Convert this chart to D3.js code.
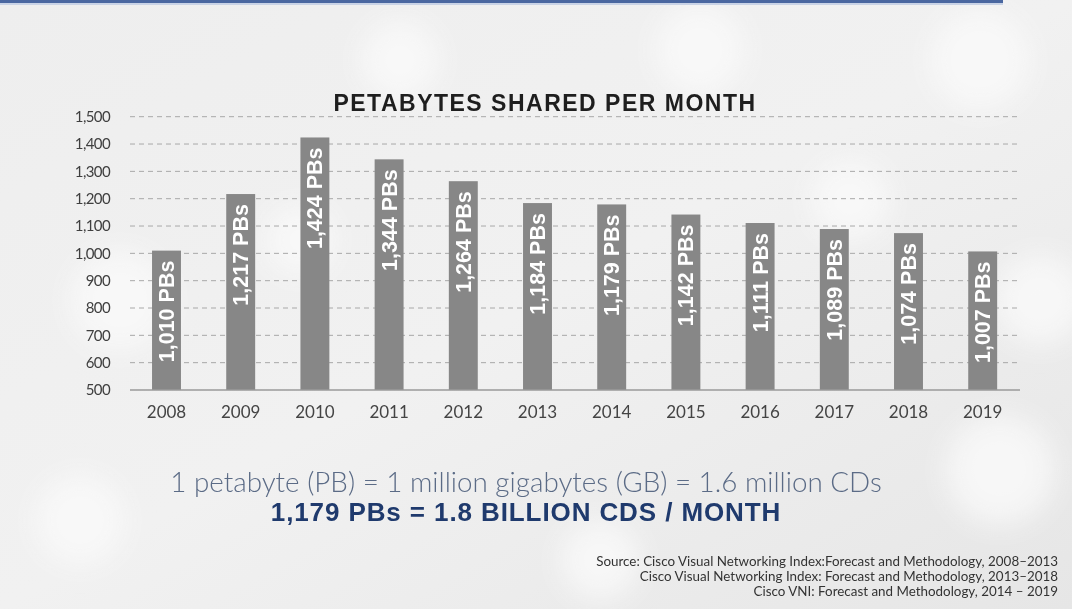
<!DOCTYPE html>
<html>
<head>
<meta charset="utf-8">
<script src="https://cdn.jsdelivr.net/npm/d3@7"></script>
<style>
  html, body { margin: 0; padding: 0; background: #ececec; }
  svg { display: block; }
</style>
</head>
<body>
<svg id="chart" width="1072" height="609"></svg>
<script>
const years = ["2008","2009","2010","2011","2012","2013","2014","2015","2016","2017","2018","2019"];
const petabytes = [1010, 1217, 1424, 1344, 1264, 1184, 1179, 1142, 1111, 1089, 1074, 1007];
const yTicks = [500, 600, 700, 800, 900, 1000, 1100, 1200, 1300, 1400, 1500];
const title = "PETABYTES SHARED PER MONTH";
const noteLine1 = "1 petabyte (PB) = 1 million gigabytes (GB) = 1.6 million CDs";
const noteLine2 = "1,179 PBs = 1.8 BILLION CDS / MONTH";
const sources = [
  "Source: Cisco Visual Networking Index:Forecast and Methodology, 2008–2013",
  "Cisco Visual Networking Index: Forecast and Methodology, 2013–2018",
  "Cisco VNI: Forecast and Methodology, 2014 – 2019"
];

const svg = d3.select("#chart");
const W = 1072, H = 609;

// background
const defs = svg.append("defs");
const bg = defs.append("linearGradient").attr("id", "bg").attr("x1", 0).attr("y1", 0).attr("x2", 1).attr("y2", 1);
bg.append("stop").attr("offset", "0%").attr("stop-color", "#eeeeee");
bg.append("stop").attr("offset", "50%").attr("stop-color", "#f1f1f1");
bg.append("stop").attr("offset", "100%").attr("stop-color", "#e6e6e6");
const blur = defs.append("filter").attr("id", "blur").attr("x", "-50%").attr("y", "-50%").attr("width", "200%").attr("height", "200%");
blur.append("feGaussianBlur").attr("stdDeviation", 14);
svg.append("rect").attr("width", W).attr("height", H).attr("fill", "url(#bg)");
const spots = [[120,300,50],[400,60,40],[700,50,45],[980,60,50],[1040,300,45],[1000,470,55],[80,520,45],[600,560,40],[300,240,35],[850,200,40]];
svg.append("g").attr("filter", "url(#blur)").selectAll("circle").data(spots).join("circle")
  .attr("cx", d => d[0]).attr("cy", d => d[1]).attr("r", d => d[2])
  .attr("fill", "#fafafa").attr("opacity", 0.8);

// top blue rule
svg.append("rect").attr("x", 0).attr("y", 0).attr("width", 1003).attr("height", 3).attr("fill", "#4a67a0");
svg.append("rect").attr("x", 0).attr("y", 3).attr("width", 1003).attr("height", 2).attr("fill", "#c9d3e6");

// scales
const x = d3.scaleBand().domain(years).range([129.4, 1019.8]).paddingInner(0.61).paddingOuter(0.305);
const y = d3.scaleLinear().domain([500, 1500]).range([390, 116.7]);

// gridlines
svg.append("g").selectAll("line").data(yTicks.filter(t => t > 500)).join("line")
  .attr("x1", 130).attr("x2", 1020)
  .attr("y1", d => y(d)).attr("y2", d => y(d))
  .attr("stroke", "#a8a8a8").attr("stroke-width", 1).attr("stroke-dasharray", "5,4");

// y axis labels
const yAxis = d3.axisLeft(y).tickValues(yTicks).tickSize(0).tickPadding(0).tickFormat(d3.format(","));
const gy = svg.append("g").attr("transform", "translate(110,0)").call(yAxis);
gy.select(".domain").remove();
gy.selectAll("text").attr("font-family", "Lato, 'Open Sans', sans-serif").attr("font-size", 15)
  .attr("fill", "#3f3f3f").attr("letter-spacing", "-0.6");

// bars
svg.append("g").selectAll("rect").data(petabytes).join("rect")
  .attr("x", (d, i) => x(years[i])).attr("width", x.bandwidth())
  .attr("y", d => y(d)).attr("height", d => y(500) - y(d))
  .attr("fill", "#878787");

// baseline
svg.append("line").attr("x1", 130).attr("x2", 1020).attr("y1", y(500)).attr("y2", y(500))
  .attr("stroke", "#9a9a9a").attr("stroke-width", 1.5);

// bar labels
svg.append("g").selectAll("text").data(petabytes).join("text")
  .attr("transform", (d, i) => `translate(${x(years[i]) + x.bandwidth() / 2 + 7.5},${y(d) + 10}) rotate(-90)`)
  .attr("text-anchor", "end")
  .attr("font-family", "'Liberation Sans', Arial, sans-serif").attr("font-weight", "bold")
  .attr("font-size", 21.5).attr("fill", "#ffffff")
  .text(d => d3.format(",")(d) + " PBs");

// x axis labels
const xAxis = d3.axisBottom(x).tickSize(0).tickPadding(0);
const gx = svg.append("g").attr("transform", `translate(0,${y(500) + 15})`).call(xAxis);
gx.select(".domain").remove();
gx.selectAll("text").attr("font-family", "Lato, 'Open Sans', sans-serif").attr("font-size", 17)
  .attr("fill", "#444444").attr("dy", "0.75em");

// title
svg.append("text").attr("x", 545).attr("y", 111).attr("text-anchor", "middle")
  .attr("font-family", "'Liberation Sans', Arial, sans-serif").attr("font-weight", "bold")
  .attr("font-size", 23).attr("letter-spacing", 1.5).attr("fill", "#1e1e1e").text(title);

// notes
svg.append("text").attr("x", 526).attr("y", 492).attr("text-anchor", "middle")
  .attr("font-family", "Lato, 'Open Sans', sans-serif").attr("font-weight", 300)
  .attr("font-size", 27.8).attr("fill", "#5b6b86").text(noteLine1);
svg.append("text").attr("x", 526).attr("y", 521).attr("text-anchor", "middle")
  .attr("font-family", "'Liberation Sans', Arial, sans-serif").attr("font-weight", "bold")
  .attr("font-size", 26).attr("letter-spacing", 0.9).attr("fill", "#1f3a6d").text(noteLine2);

// sources
svg.append("g").selectAll("text").data(sources).join("text")
  .attr("x", 1058).attr("y", (d, i) => 566 + i * 15).attr("text-anchor", "end")
  .attr("font-family", "Lato, 'Open Sans', sans-serif").attr("font-size", 13.4)
  .attr("fill", "#333333").text(d => d);
</script>
</body>
</html>
